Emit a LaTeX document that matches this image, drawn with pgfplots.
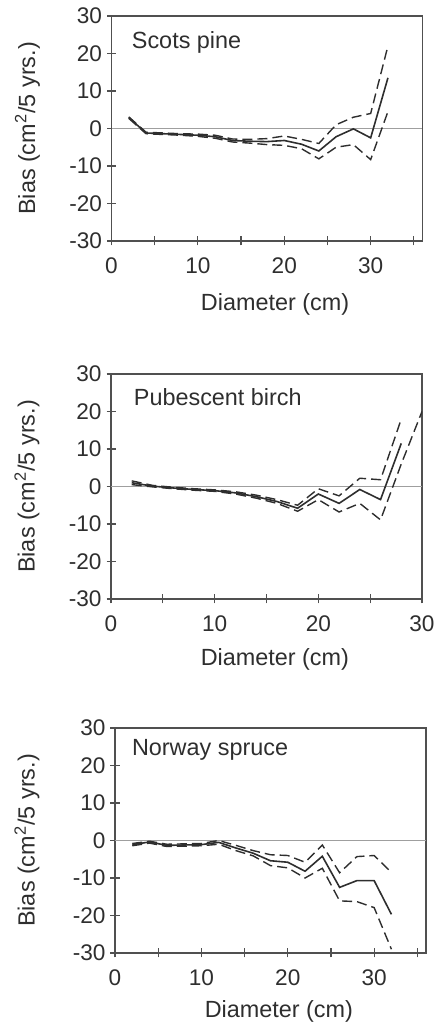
\documentclass[border=0pt]{standalone}
\usepackage{fontspec}
\setmainfont{Liberation Sans}
\usepackage{pgfplots}
\pgfplotsset{compat=1.18}
\usepackage{pgfplotstable}

\pgfplotstableread{
x solid upper lower
2 2.9 3.1 2.7
4 -1.2 -1.0 -1.4
6 -1.4 -1.2 -1.6
8 -1.6 -1.4 -1.8
10 -1.8 -1.5 -2.1
12 -2.2 -1.8 -2.6
14 -3.2 -2.8 -3.6
16 -3.4 -2.9 -3.9
18 -3.5 -2.7 -4.3
20 -3.2 -2.0 -4.5
22 -4.2 -2.9 -5.4
24 -6.0 -4.0 -8.1
26 -2.2 1.0 -5.0
28 -0.1 3.0 -4.3
30 -2.5 4.0 -8.3
32 13.5 22.0 4.5
}\pine

\pgfplotstableread{
x solid upper lower
2 1.0 1.5 0.5
4 0.1 0.3 -0.1
6 -0.4 -0.2 -0.6
8 -0.8 -0.6 -1.0
10 -1.1 -0.9 -1.3
12 -1.7 -1.4 -2.0
14 -2.7 -2.3 -3.1
16 -4.0 -3.5 -4.5
18 -5.8 -5.0 -6.6
20 -2.0 -0.6 -3.5
22 -4.5 -2.5 -6.8
24 -0.8 2.2 -4.5
26 -3.5 1.8 -8.9
28 11.5 18.0 6.0
30 nan nan 20.0
}\birch

\pgfplotstableread{
x solid upper lower
2 -1.1 -0.8 -1.4
4 -0.4 -0.2 -0.7
6 -1.3 -1.0 -1.6
8 -1.2 -0.9 -1.5
10 -1.1 -0.8 -1.4
12 -0.5 0.0 -1.0
14 -2.0 -1.3 -2.7
16 -3.4 -2.7 -4.1
18 -5.4 -3.8 -6.7
20 -5.8 -4.0 -7.3
22 -8.2 -5.8 -10.0
24 -4.2 -1.2 -7.4
26 -12.5 -8.6 -16.1
28 -10.7 -4.3 -16.3
30 -10.7 -4.0 -17.9
32 -19.7 -8.5 -29.0
}\spruce

\definecolor{ink}{HTML}{2E2E2E}
\definecolor{frame}{HTML}{505050}

\pgfplotsset{
  biasaxis/.style={
    scale only axis,
    width=155.5pt, height=112.5pt,
    anchor=south west,
    ymin=-30, ymax=30,
    ytick={-30,-20,...,30},
    xmin=0,
    xtick={0,10,20,30},
    tick align=center,
    major tick length=4.5pt,
    minor tick length=4.5pt,
    every tick/.style={frame, line width=0.6pt},
    axis line style={frame, line width=0.6pt},
    ytick pos=left, xtick pos=bottom,
    /pgf/number format/assume math mode=true,
    tick label style={font=\fontsize{11.3}{14}\selectfont, text=ink},
    xticklabel style={yshift=-2.7pt},
    yticklabel style={xshift=1pt},
    label style={font=\fontsize{11.7}{14}\selectfont, text=ink},
    ylabel={Bias (cm\textsuperscript{2}/5 yrs.)},
    xlabel={Diameter (cm)},
    unbounded coords=jump,
    clip=true,
  },
  solidser/.style={ink, line width=0.8pt, solid, mark=none},
  dashser/.style={ink, line width=0.7pt, dash pattern=on 5pt off 2.5pt, mark=none},
  zeroline/.style={gray!75, line width=0.45pt},
}

\begin{document}
\begin{tikzpicture}
\useasboundingbox (0,0) rectangle (217pt,513.5pt);

% Scots pine
\begin{axis}[biasaxis, at={(55.75pt,393pt)}, xmax=36,
  minor xtick={5,15,25,35},
  xlabel style={at={(axis description cs:0.526,-0.284)}, anchor=center},
  ylabel style={at={(axis description cs:-0.270,0.5)}, anchor=center}]
  \addplot[zeroline] coordinates {(0,0) (36,0)};
  \addplot[dashser] table[x=x,y=upper] {\pine};
  \addplot[dashser] table[x=x,y=lower] {\pine};
  \addplot[solidser] table[x=x,y=solid] {\pine};
  \node[anchor=west, font=\fontsize{11.7}{14}\selectfont, text=ink] at (axis description cs:0.043,0.884) {Scots pine};
\end{axis}

% Pubescent birch
\begin{axis}[biasaxis, at={(55.5pt,214pt)}, xmax=30,
  minor xtick={5,15,25},
  xlabel style={at={(axis description cs:0.527,-0.270)}, anchor=center},
  ylabel style={at={(axis description cs:-0.270,0.5)}, anchor=center}]
  \addplot[zeroline] coordinates {(0,0) (30,0)};
  \addplot[dashser] table[x=x,y=upper] {\birch};
  \addplot[dashser] table[x=x,y=lower] {\birch};
  \addplot[solidser] table[x=x,y=solid] {\birch};
  \node[anchor=west, font=\fontsize{11.7}{14}\selectfont, text=ink] at (axis description cs:0.051,0.898) {Pubescent birch};
\end{axis}

% Norway spruce
\begin{axis}[biasaxis, at={(57.5pt,37pt)}, xmax=36,
  minor xtick={5,15,25,35},
  xlabel style={at={(axis description cs:0.527,-0.261)}, anchor=center},
  ylabel style={at={(axis description cs:-0.283,0.5)}, anchor=center}]
  \addplot[zeroline] coordinates {(0,0) (36,0)};
  \addplot[dashser] table[x=x,y=upper] {\spruce};
  \addplot[dashser] table[x=x,y=lower] {\spruce};
  \addplot[solidser] table[x=x,y=solid] {\spruce};
  \node[anchor=west, font=\fontsize{11.7}{14}\selectfont, text=ink] at (axis description cs:0.032,0.904) {Norway spruce};
\end{axis}
\end{tikzpicture}
\end{document}
